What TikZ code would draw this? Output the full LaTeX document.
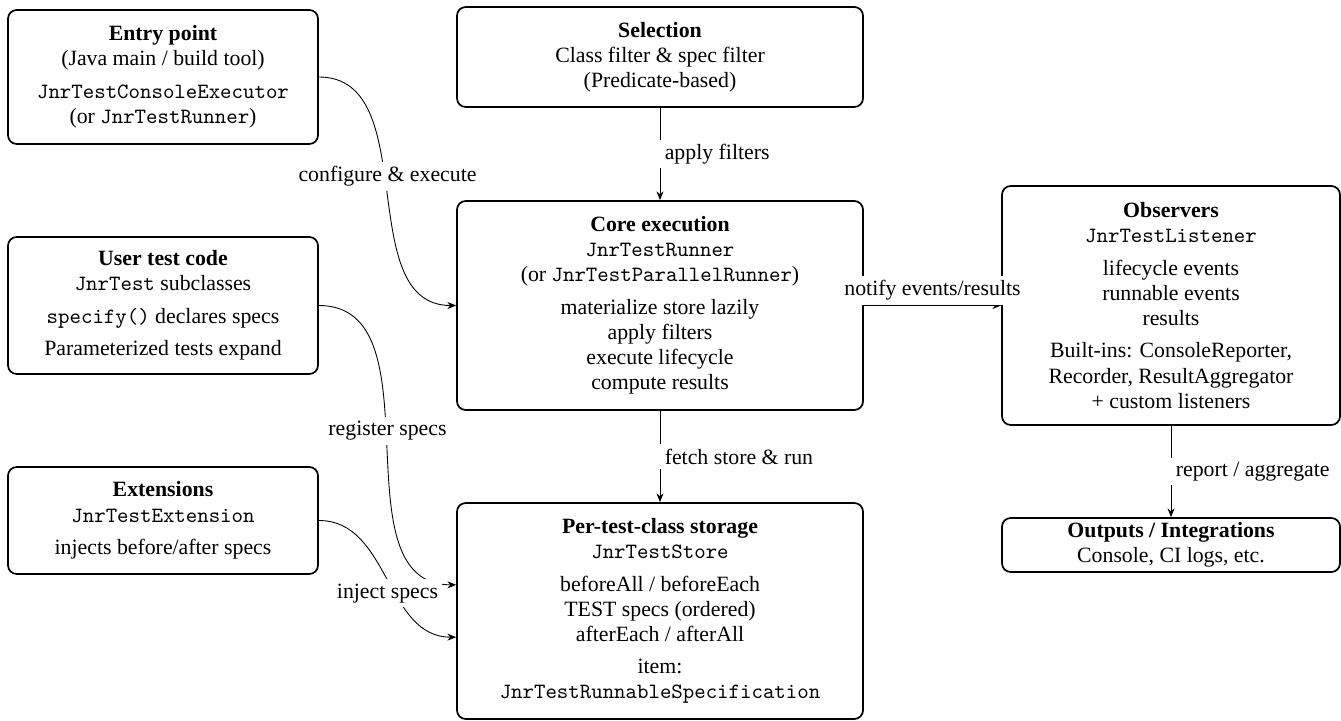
\documentclass[tikz,border=0pt]{standalone}
\usepackage{fontspec}
\setmainfont{Liberation Serif}
\usetikzlibrary{arrows.meta}
\newcommand\pxu{0.4587pt}
\begin{document}
\begin{tikzpicture}[x=0.4587pt, y=-0.4587pt,
  box/.style={draw, line width=0.8pt, rounded corners=4pt, align=center, inner sep=0pt,
    font=\fontsize{10pt}{11.5pt}\selectfont},
  lbl/.style={fill=white, inner sep=2pt, font=\fontsize{10pt}{11.5pt}\selectfont},
  conn/.style={-{Stealth[length=4pt,width=3.2pt]}, line width=0.4pt}]
\useasboundingbox (0,0) rectangle (1341,721);

\node[box, minimum width=310*\pxu, minimum height=134*\pxu] (entry) at (163,77)
  {\textbf{Entry point}\\(Java main / build tool)\\[3.4pt]\texttt{JnrTestConsoleExecutor}\\(or \texttt{JnrTestRunner})};
\node[box, minimum width=310*\pxu, minimum height=137*\pxu] (user) at (163,305.5)
  {\textbf{User test code}\\\texttt{JnrTest} subclasses\\[3.4pt]\texttt{specify()} declares specs\\[3.4pt]Parameterized tests expand};
\node[box, minimum width=310*\pxu, minimum height=107*\pxu] (ext) at (163,520.5)
  {\textbf{Extensions}\\\texttt{JnrTestExtension}\\[3.4pt]injects before/after specs};
\node[box, minimum width=406*\pxu, minimum height=100*\pxu] (sel) at (660,57)
  {\textbf{Selection}\\Class filter \& spec filter\\(Predicate-based)};
\node[box, minimum width=406*\pxu, minimum height=209*\pxu] (core) at (660,305.5)
  {\textbf{Core execution}\\\texttt{JnrTestRunner}\\(or \texttt{JnrTestParallelRunner})\\[3.4pt]materialize store lazily\\apply filters\\execute lifecycle\\compute results};
\node[box, minimum width=406*\pxu, minimum height=216*\pxu] (store) at (660,611)
  {\textbf{Per-test-class storage}\\\texttt{JnrTestStore}\\[3.4pt]beforeAll / beforeEach\\TEST specs (ordered)\\afterEach / afterAll\\[3.4pt]item:\\\texttt{JnrTestRunnableSpecification}};
\node[box, minimum width=338*\pxu, minimum height=239*\pxu] (obs) at (1171,305.5)
  {\textbf{Observers}\\\texttt{JnrTestListener}\\[3.4pt]lifecycle events\\runnable events\\results\\[3.4pt]Built-ins: ConsoleReporter,\\Recorder, ResultAggregator\\+ custom listeners};
\node[box, minimum width=338*\pxu, minimum height=54*\pxu] (out) at (1171,545)
  {\textbf{Outputs / Integrations}\\Console, CI logs, etc.};

\draw[conn] (entry.east) to[out=0,in=180] node[lbl, midway, above] {configure \& execute} (core.west);
\draw[conn] (user.east) to[out=0,in=180] node[lbl, midway, above] {register specs} ([yshift=12pt]store.west);
\draw[conn] (ext.east) to[out=0,in=180] node[lbl, midway, below] {inject specs} ([yshift=-12pt]store.west);
\draw[conn] (sel) -- node[lbl, right] {apply filters} (core);
\draw[conn] (core) -- node[lbl, right] {fetch store \& run} (store);
\draw[conn] (core) -- node[lbl, above] {notify events/results} (obs);
\draw[conn] (obs) -- node[lbl, right] {report / aggregate} (out);
\end{tikzpicture}
\end{document}
